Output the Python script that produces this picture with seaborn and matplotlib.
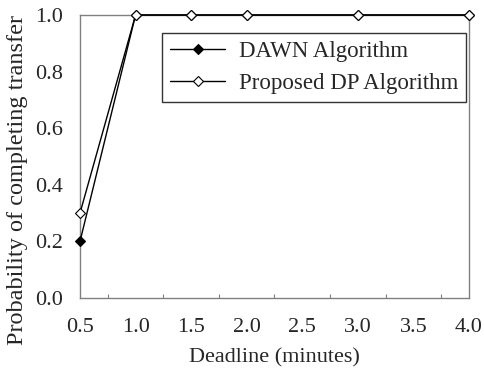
import matplotlib
matplotlib.use("Agg")
import matplotlib.pyplot as plt
import seaborn as sns
import pandas as pd
import numpy as np
from matplotlib.ticker import MultipleLocator

deadline = [0.5, 1.0, 1.5, 2.0, 3.0, 4.0]
dawn = [0.2, 1.0, 1.0, 1.0, 1.0, 1.0]
proposed = [0.3, 1.0, 1.0, 1.0, 1.0, 1.0]
series_names = ["DAWN Algorithm", "Proposed DP Algorithm"]

sns.set_style("white")
plt.rcParams['font.family'] = ['Liberation Serif', 'DejaVu Serif']

fig = plt.figure(figsize=(4.85, 3.72), dpi=100)
ax = fig.add_axes([80 / 485, 1 - 298 / 372, 389 / 485, 283 / 372])

df = pd.DataFrame({"x": deadline * 2,
                   "y": dawn + proposed,
                   "s": [series_names[0]] * len(deadline) + [series_names[1]] * len(deadline)})

sns.lineplot(data=df[df.s == series_names[0]], x="x", y="y", ax=ax, color="black",
             lw=1, marker="D", markersize=5.5, markerfacecolor="black",
             markeredgecolor="black", markeredgewidth=0.8, label=series_names[0],
             clip_on=False, zorder=3)
sns.lineplot(data=df[df.s == series_names[1]], x="x", y="y", ax=ax, color="black",
             lw=1, marker="D", markersize=5.5, markerfacecolor="white",
             markeredgecolor="black", markeredgewidth=0.8, label=series_names[1],
             clip_on=False, zorder=4)

ax.set_xlim(0.5, 4.0)
ax.set_ylim(0.0, 1.0)
ax.xaxis.set_major_locator(MultipleLocator(0.5))
ax.xaxis.set_minor_locator(MultipleLocator(0.25))
ax.yaxis.set_major_locator(MultipleLocator(0.2))
ax.set_xticklabels([f"{v:.1f}" for v in ax.get_xticks()])
ax.set_yticklabels([f"{v:.1f}" for v in ax.get_yticks()])
ax.tick_params(axis="both", which="both", direction="in", length=3, width=0.8,
               color="#808080", labelsize=16)
ax.tick_params(axis="x", which="both", pad=14.5)
ax.tick_params(axis="y", which="both", pad=12)
ax.tick_params(axis="x", which="minor", bottom=True)
for sp in ax.spines.values():
    sp.set_color("#808080")
    sp.set_linewidth(1)

ax.set_xlabel("Deadline (minutes)", fontsize=16, labelpad=8)
ax.set_ylabel("Probability of completing transfer", fontsize=17.5)
ax.yaxis.set_label_coords(-0.134, 0.417)

leg = ax.legend(loc="upper left", bbox_to_anchor=(0.211, 0.936), fontsize=16.5,
                frameon=True, fancybox=False, handlelength=2.4, borderpad=0.35,
                labelspacing=0.45, handletextpad=0.6, borderaxespad=0)
leg.get_frame().set_edgecolor("black")
leg.get_frame().set_linewidth(1)

fig.savefig("out.png", dpi=100)
